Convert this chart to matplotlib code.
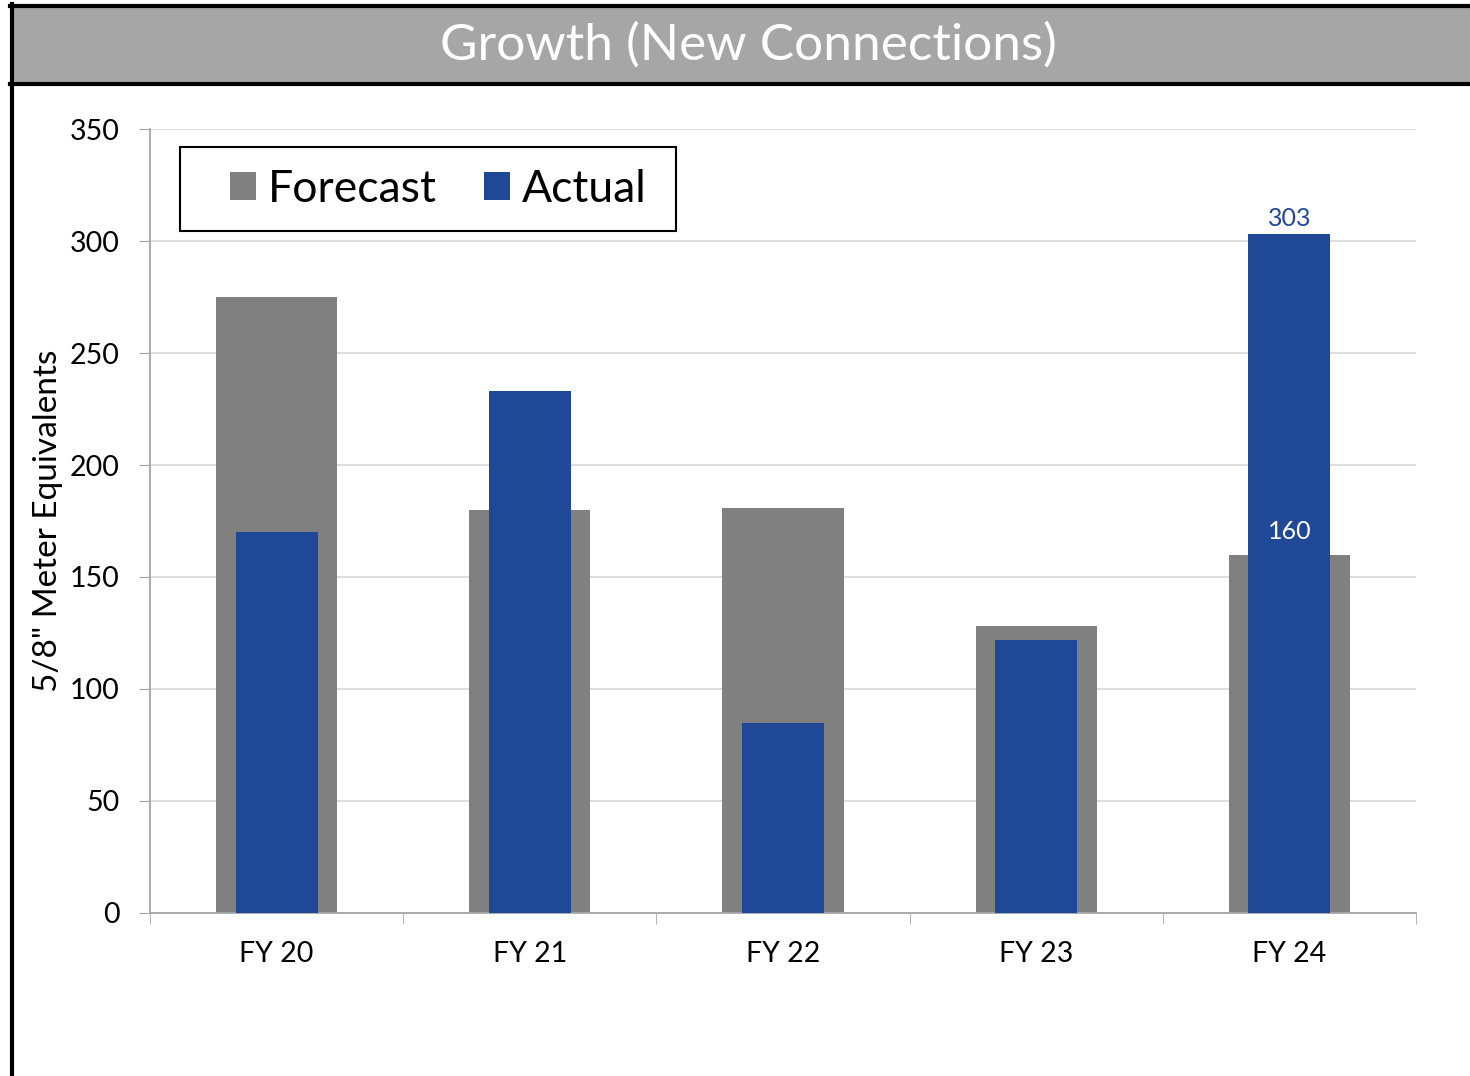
import matplotlib.pyplot as plt
import matplotlib.patches as mpatches
from matplotlib.lines import Line2D
import numpy as np

plt.rcParams['font.family'] = ['Lato', 'DejaVu Sans']

# Data
categories = ['FY 20', 'FY 21', 'FY 22', 'FY 23', 'FY 24']
forecast = [275, 180, 181, 128, 160]
actual = [170, 233, 85, 122, 303]

gray = '#808080'
blue = '#1F4897'

W, H = 1470, 1076
fig = plt.figure(figsize=(W / 100, H / 100), dpi=100)
ax = fig.add_axes([0.102, 0.1515, 0.8613, 0.7286])

x = np.arange(len(categories))
ax.bar(x, forecast, width=0.478, color=gray, label='Forecast', zorder=2)
ax.bar(x, actual, width=0.324, color=blue, label='Actual', zorder=3)

# Labels on the last category
ax.text(x[-1], actual[-1] + 2, str(actual[-1]), ha='center', va='bottom',
        fontsize=18, color=blue, zorder=4)
ax.text(x[-1], forecast[-1] + 5, str(forecast[-1]), ha='center', va='bottom',
        fontsize=18, color='white', zorder=4)

ax.set_xlim(-0.5, len(categories) - 0.5)
ax.set_ylim(0, 350)
ax.set_yticks(range(0, 351, 50))
ax.set_xticks(x)
ax.set_xticklabels(categories)
ax.set_xticks(np.arange(-0.5, len(categories), 1), minor=True)
ax.tick_params(axis='x', which='major', length=0, pad=20, labelsize=20.5)
ax.tick_params(axis='x', which='minor', length=8, color='#A6A6A6', direction='out')
ax.tick_params(axis='y', length=8, color='#A6A6A6', labelsize=20.5, pad=14)
ax.grid(axis='y', color='#D9D9D9', linewidth=1.2, zorder=0)
ax.set_axisbelow(True)
for s in ['top', 'right']:
    ax.spines[s].set_visible(False)
for s in ['left', 'bottom']:
    ax.spines[s].set_color('#A6A6A6')
    ax.spines[s].set_linewidth(1.3)

ax.set_ylabel('5/8" Meter Equivalents', fontsize=24, labelpad=5)

# Legend (frame drawn separately to get the wide padding)
ax.add_patch(mpatches.Rectangle((180 / W, 1 - 231 / H), 496 / W, 84 / H,
                                transform=fig.transFigure, facecolor='white',
                                edgecolor='black', linewidth=1.5, zorder=6,
                                clip_on=False))
leg = ax.legend(loc='center left', bbox_to_anchor=(230 / W, 1 - 189 / H),
                bbox_transform=fig.transFigure, ncol=2, fontsize=32, frameon=False,
                handlelength=0.59, handleheight=0.59, handletextpad=0.27,
                columnspacing=1.05, borderpad=0, borderaxespad=0)
leg.set_zorder(7)

# Title banner
fig.patches.append(mpatches.Rectangle((12 / W, 1 - 84 / H), 1, 78 / H,
                                      transform=fig.transFigure, facecolor='#A6A6A6',
                                      edgecolor='none', zorder=1))
fig.lines.append(Line2D([10 / W, 1], [1 - 6 / H, 1 - 6 / H],
                        transform=fig.transFigure, color='black', linewidth=3))
fig.lines.append(Line2D([10 / W, 1], [1 - 84 / H, 1 - 84 / H],
                        transform=fig.transFigure, color='black', linewidth=3))
fig.lines.append(Line2D([12 / W, 12 / W], [0, 1 - 4 / H],
                        transform=fig.transFigure, color='black', linewidth=3))
fig.text(748 / W, 1 - 45 / H, 'Growth (New Connections)', ha='center', va='center',
         fontsize=37, color='white')

plt.savefig('out.png', dpi=100)
